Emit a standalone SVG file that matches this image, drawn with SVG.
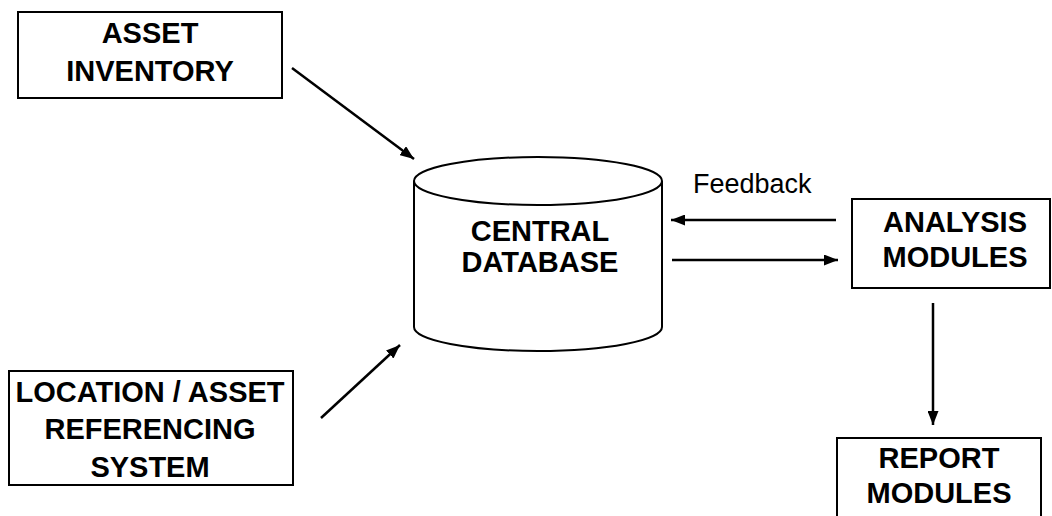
<svg xmlns="http://www.w3.org/2000/svg" width="1052" height="516" viewBox="0 0 1052 516">
<style>
.box{fill:#fff;stroke:#000;stroke-width:2}
.lbl{font-family:"Liberation Sans",Arial,sans-serif;font-weight:bold;font-size:29px;text-anchor:middle;fill:#000}
.fb{font-family:"Liberation Sans",Arial,sans-serif;font-size:27px;fill:#000}
.con{stroke:#000;stroke-width:2.5;fill:none;marker-end:url(#ah)}
</style>
<defs>
<marker id="ah" viewBox="0 0 14 11" refX="14" refY="5.5" markerWidth="14" markerHeight="11" markerUnits="userSpaceOnUse" orient="auto">
<path d="M0,0 L14,5.5 L0,11 Z" fill="#000"/>
</marker>
</defs>
<rect width="1052" height="516" fill="#fff"/>
<g id="asset-inventory">
<rect class="box" x="18" y="12" width="264" height="86"/>
<text class="lbl" x="150" y="43">ASSET</text>
<text class="lbl" x="150" y="81">INVENTORY</text>
</g>
<g id="central-database">
<path class="box" d="M414,181 L414,327 A124,24 0 0 0 662,327 L662,181 A124,24 0 0 0 414,181 Z"/>
<path d="M414,181 A124,24 0 0 0 662,181" fill="none" stroke="#000" stroke-width="2"/>
<text class="lbl" x="540" y="241">CENTRAL</text>
<text class="lbl" x="540" y="272">DATABASE</text>
</g>
<g id="analysis-modules">
<rect class="box" x="852" y="199" width="198" height="89"/>
<text class="lbl" x="955" y="232">ANALYSIS</text>
<text class="lbl" x="955" y="267">MODULES</text>
</g>
<g id="report-modules">
<rect class="box" x="837" y="438" width="204" height="90"/>
<text class="lbl" x="939" y="468">REPORT</text>
<text class="lbl" x="939" y="503">MODULES</text>
</g>
<g id="location-referencing">
<rect class="box" x="9" y="371" width="284" height="114"/>
<text class="lbl" x="150" y="402">LOCATION / ASSET</text>
<text class="lbl" x="150" y="439">REFERENCING</text>
<text class="lbl" x="150" y="477">SYSTEM</text>
</g>
<g id="connectors">
<line class="con" x1="292" y1="68" x2="414" y2="159"/>
<line class="con" x1="321" y1="418" x2="400" y2="345"/>
<line class="con" x1="836" y1="220" x2="671" y2="220"/>
<line class="con" x1="672" y1="260" x2="838" y2="260"/>
<line class="con" x1="933" y1="303" x2="933" y2="425"/>
<text class="fb" x="693" y="193">Feedback</text>
</g>
</svg>
